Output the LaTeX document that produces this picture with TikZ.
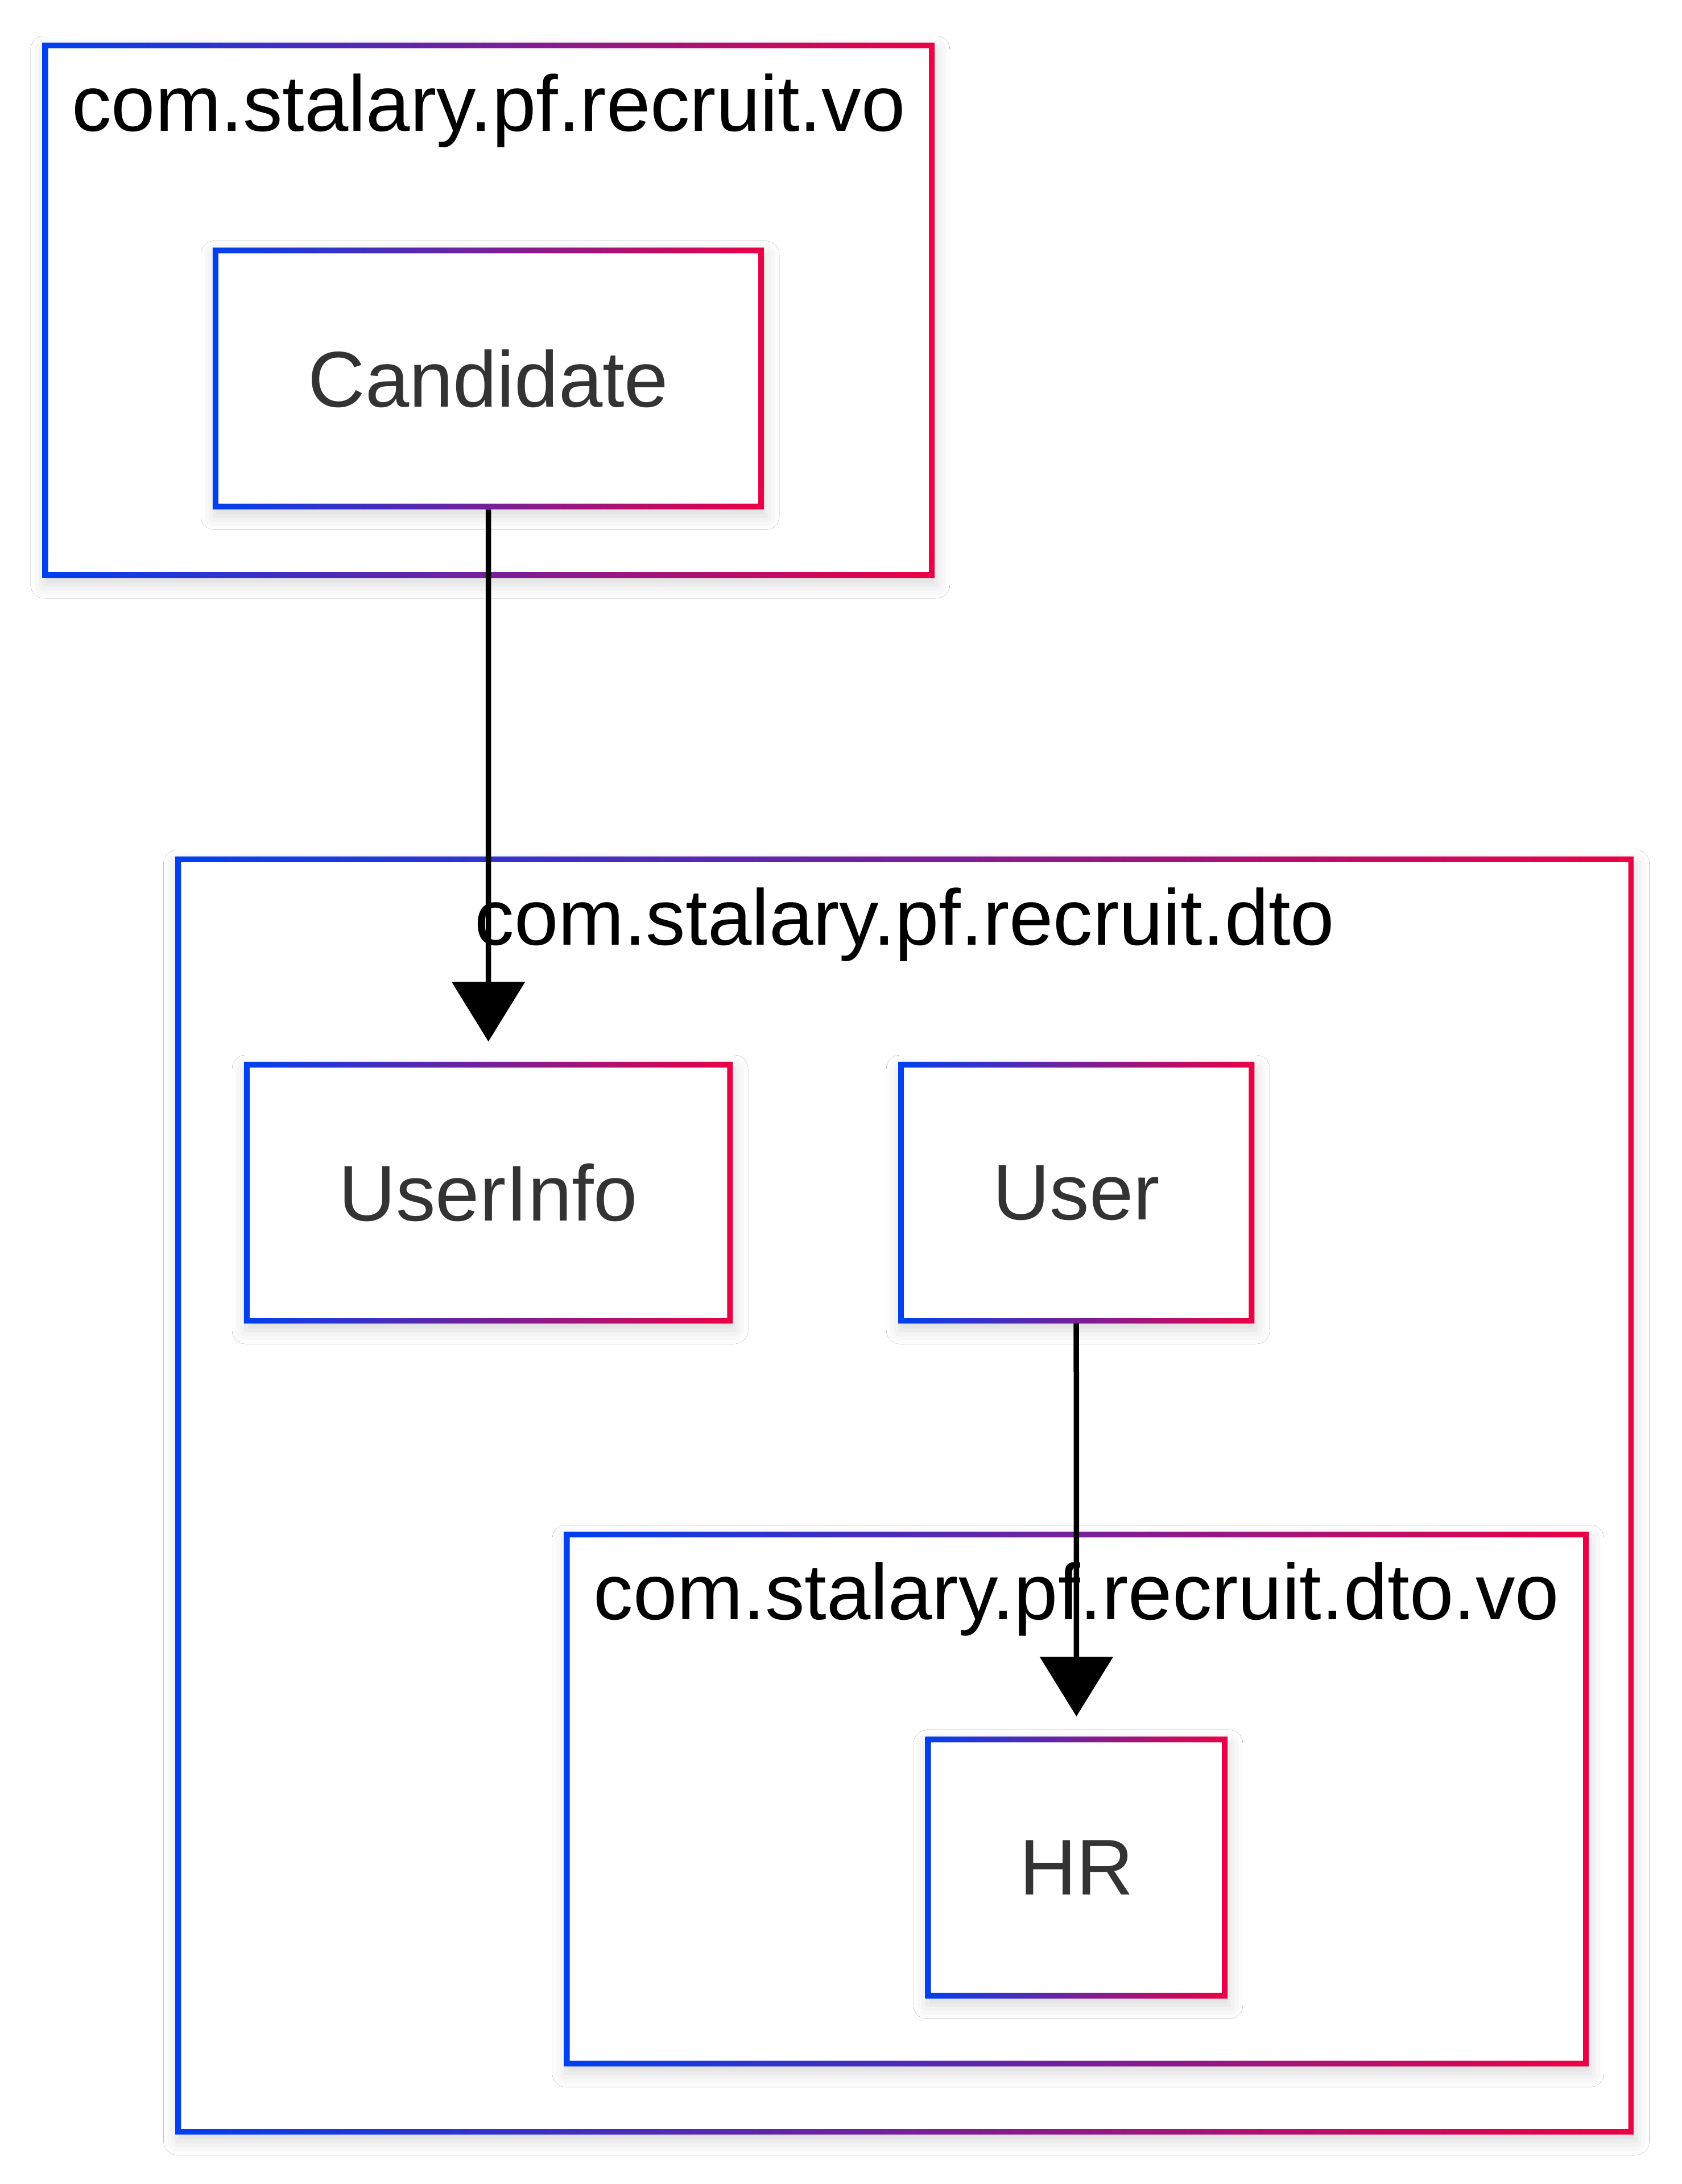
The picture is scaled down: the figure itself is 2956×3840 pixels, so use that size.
\documentclass[tikz,border=0pt]{standalone}
\usepackage{fontspec}
\setmainfont{Liberation Sans}
\usetikzlibrary{arrows.meta,shadows.blur}

\definecolor{gblue}{RGB}{0,64,240}
\definecolor{gred}{RGB}{236,0,68}
\definecolor{labelgray}{RGB}{51,51,51}

% gradient frame round a node
\newcommand{\gradframe}[1]{%
  \shade[left color=gblue, right color=gred, even odd rule]
    (#1.south west) rectangle (#1.north east)
    ([shift={(10pt,10pt)}]#1.south west) rectangle ([shift={(-10pt,-10pt)}]#1.north east);}

\begin{document}
\begin{tikzpicture}[x=1pt,y=-1pt,
    box/.style={rectangle, fill=white, inner sep=0pt, text=labelgray,
      font=\fontsize{139}{167}\selectfont,
      blur shadow={shadow xshift=3pt, shadow yshift=-12pt, shadow blur radius=24pt,
        shadow blur extra rounding=0pt, shadow opacity=15}},
    title/.style={anchor=base, text=black, font=\fontsize{139}{167}\selectfont},
    arr/.style={-{Triangle[length=105pt,width=127pt]}, line width=9.5pt, black, shorten >=35.5pt}]
  % Background
  \fill[white] (0,0) rectangle (2956,3840);
  \useasboundingbox (0,0) rectangle (2956,3840);

  % Packages
  \node[box, minimum width=1568pt, minimum height=941pt] (vo) at (858.8,545.5) {};
  \node[box, minimum width=2564pt, minimum height=2247pt] (dto) at (1590.5,2629.5) {};
  \node[box, minimum width=1801pt, minimum height=940pt] (dtovo) at (1892.4,3163.2) {};
  \node[title] (votitle) at ([yshift=-155.5pt]vo.north) {com.stalary.pf.recruit.vo};
  \node[title] (dtotitle) at ([yshift=-156pt]dto.north) {com.stalary.pf.recruit.dto};
  \node[title] (dtovotitle) at ([yshift=-154.5pt]dtovo.north) {com.stalary.pf.recruit.dto.vo};

  % Classes
  \node[box, minimum width=969pt, minimum height=460pt] (cand) at (858.5,665.5) {Candidate};
  \node[box, minimum width=859pt, minimum height=460pt] (uinfo) at (858.6,2097) {UserInfo};
  \node[box, minimum width=626pt, minimum height=460pt] (user) at (1892.2,2097) {User};
  \node[box, minimum width=531pt, minimum height=460pt] (hr) at (1892.4,3283.6) {HR};

  % Frames
  \foreach \n in {vo,dto,dtovo,cand,uinfo,user,hr}
    {\gradframe{\n}}

  % Links
  \draw[arr] (cand.south) -- (uinfo.north);
  \draw[arr] (user.south) -- (hr.north);
\end{tikzpicture}
\end{document}
